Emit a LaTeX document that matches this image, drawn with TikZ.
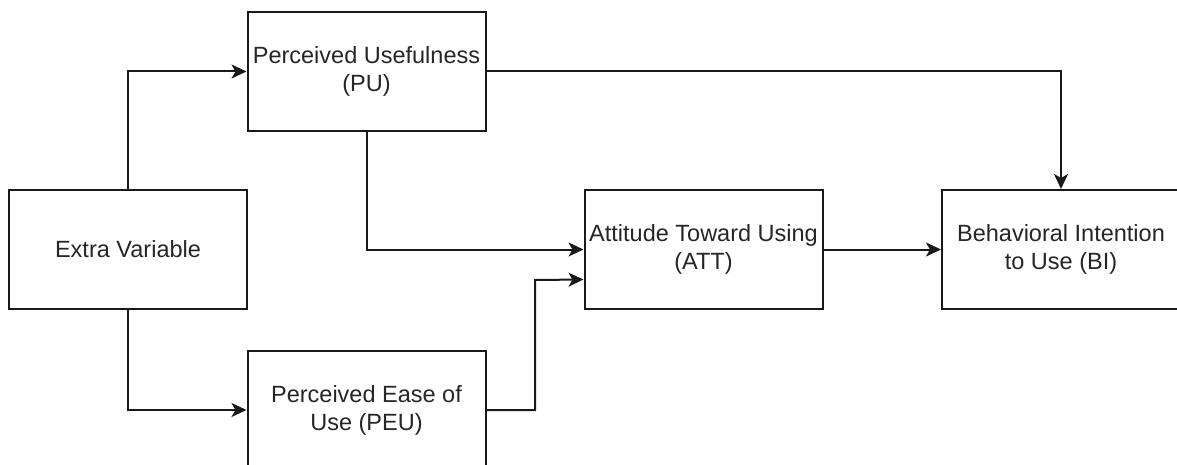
\documentclass[tikz,border=0pt]{standalone}
\usepackage{fontspec}
\setmainfont{Liberation Sans}
\usetikzlibrary{arrows.meta,calc}

\tikzset{
  concept/.style={draw=black!90, line width=2pt, fill=white, rectangle,
    minimum width=238pt, minimum height=119pt, inner sep=0pt, align=center,
    text=black!85, font=\fontsize{23.5}{28}\selectfont},
  link/.style={draw=black!90, line width=2pt,
    -{Stealth[length=15pt, width=14pt, inset=4pt]}},
}

\begin{document}
\begin{tikzpicture}[x=1pt, y=-1pt]
  \useasboundingbox (0,0) rectangle (1177,465);
  \fill[white] (0,0) rectangle (1177,465);
  \begin{scope}
    \clip (0,0) rectangle (1177,465);

    % model constructs
    \node[concept] (ev)  at (128,249.5)   {Extra Variable};
    \node[concept] (pu)  at (366.5,71.5)  {Perceived Usefulness\\(PU)};
    \node[concept] (peu) at (366.5,410)   {Perceived Ease of\\Use (PEU)};
    \node[concept] (att) at (703.5,249.5) {Attitude Toward Using\\(ATT)};
    \node[concept] (bi)  at (1061,249.5)  {Behavioral Intention\\to Use (BI)};

    % bend points
    \coordinate (peuBend) at (535,280);

    % relations
    \draw[link] (ev.north) |- (pu.west);
    \draw[link] (ev.south) |- (peu.west);
    \draw[link] (pu.south) |- (att.west);
    \draw[link] (peu.east) -| (peuBend) -- ([yshift=-30pt]att.west);
    \draw[link] (pu.east) -| (bi.north);
    \draw[link] (att.east) -- (bi.west);
  \end{scope}
\end{tikzpicture}
\end{document}
